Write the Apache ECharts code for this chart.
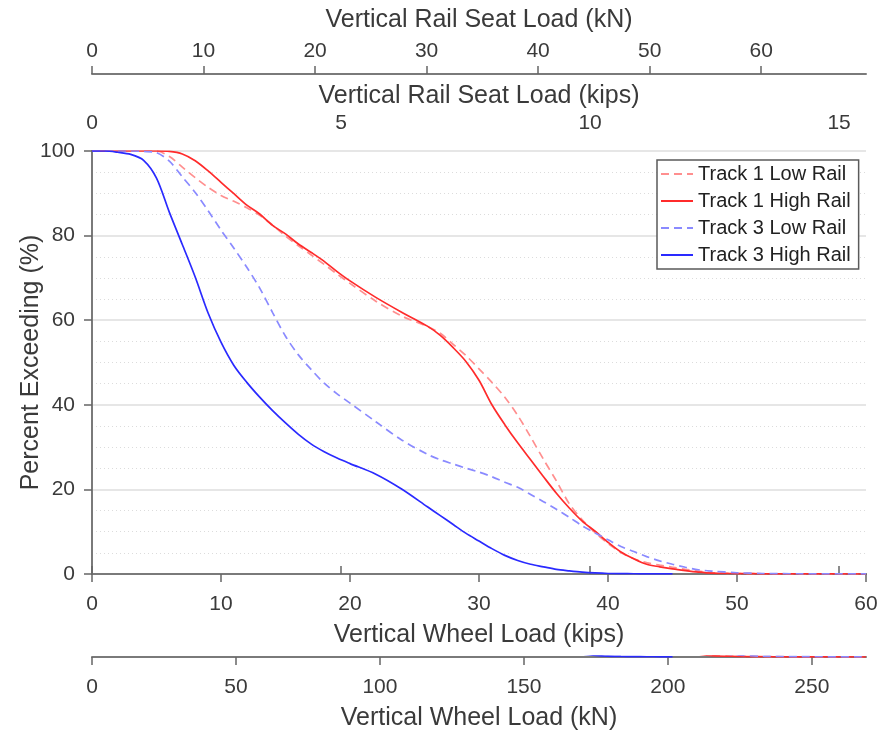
<!DOCTYPE html>
<html>
<head>
<meta charset="utf-8">
<script src="https://cdn.jsdelivr.net/npm/echarts@6/dist/echarts.min.js"></script>
<style>
  html, body { margin: 0; padding: 0; background: #ffffff; }
  #chart { width: 881px; height: 734px; }
</style>
</head>
<body>
<div id="chart"></div>
<script>
// Vertical wheel load (kips) at which each exceedance value is given
const loadKips = [0, 1, 2, 3, 4, 5, 6, 7, 8, 9, 10, 11, 12, 13, 14, 15, 16, 17, 18, 19, 20,
  22, 24, 26, 27, 28, 29, 30, 31, 32, 33, 34, 35, 36, 37, 38, 39, 40, 41, 42, 43, 44, 45,
  46, 47, 48, 50, 52, 55, 60];

// Percent of wheel passes exceeding the load
const track1LowRail = [100, 100, 100, 100, 100, 100, 98.7, 96.2, 93.7, 91.4, 89.5, 88.1, 86.6, 84.8, 82.5, 79.9, 77.6, 75.4, 73.2, 70.9, 68.7,
  64.5, 61.0, 58.5, 56.9, 54.3, 51.6, 48.5, 45.3, 41.8, 37.5, 32.4, 27.1, 22.0, 16.6, 12.8, 9.8, 7.2, 5.1, 3.6, 2.7, 2.1, 1.6,
  1.1, 0.7, 0.3, 0.12, 0.06, 0.03, 0];
const track1HighRail = [100, 100, 100, 100, 100, 100, 99.9, 99.3, 97.7, 95.3, 92.6, 89.9, 87.2, 85.1, 82.4, 80.4, 78.0, 76.0, 73.9, 71.5, 69.3,
  65.4, 61.9, 58.6, 56.4, 53.5, 50.2, 45.8, 40.0, 35.3, 31.0, 27.0, 23.0, 19.1, 15.6, 12.5, 10.1, 7.5, 5.2, 3.6, 2.3, 1.7, 1.2,
  0.8, 0.45, 0.2, 0.1, 0.05, 0.02, 0];
const track3LowRail = [100, 100, 100, 100, 99.9, 99.6, 97.6, 93.9, 90.2, 85.9, 81.3, 77.0, 72.5, 67.6, 61.8, 56.2, 51.8, 48.3, 45.1, 42.6, 40.4,
  36.0, 31.7, 28.3, 27.0, 26.0, 25.0, 24.1, 23.0, 21.7, 20.5, 18.8, 17.1, 15.3, 13.4, 11.4, 9.7, 8.1, 6.5, 5.3, 4.1, 3.1, 2.3,
  1.6, 1.0, 0.7, 0.3, 0.12, 0.05, 0.02];
const track3HighRail = [100, 100, 99.7, 99.2, 97.8, 93.6, 85.5, 77.9, 70.2, 61.7, 54.8, 49.3, 45.3, 41.8, 38.6, 35.7, 33.0, 30.7, 28.9, 27.4, 26.1,
  23.6, 20.1, 15.9, 13.8, 11.7, 9.6, 7.8, 6.0, 4.4, 3.2, 2.3, 1.7, 1.1, 0.75, 0.45, 0.25, 0.12, 0.08, 0.06, 0.04, 0.03, 0.02,
  null, null, null, null, null, null, null];

// Tick labels of the secondary scales
const railSeatKnTicks = [0, 10, 20, 30, 40, 50, 60];
const railSeatKipsTicks = [0, 5, 10, 15];
const wheelKnTicks = [0, 50, 100, 150, 200, 250];
const percentTicks = [0, 20, 40, 60, 80, 100];

const seriesNames = ['Track 1 Low Rail', 'Track 1 High Rail', 'Track 3 Low Rail', 'Track 3 High Rail'];
const seriesValues = [track1LowRail, track1HighRail, track3LowRail, track3HighRail];
const seriesLook = [
  { color: '#ff8f8f', type: [8, 5] },
  { color: '#ff2b2b', type: 'solid' },
  { color: '#8a8aff', type: [8, 5] },
  { color: '#2a2aff', type: 'solid' }
];

function toPairs(values) {
  const out = [];
  loadKips.forEach((x, i) => { if (values[i] !== null) out.push([x, values[i]]); });
  return out;
}

const FONT = 'Liberation Sans, Arial, sans-serif';
const TXT = '#3a3a3a';
const AXIS_LINE = { show: true, lineStyle: { color: '#7a7a7a', width: 2 } };
const TICK = { show: true, length: 8, lineStyle: { color: '#666666', width: 1.5 } };
const tickLabel = { color: TXT, fontSize: 21, fontFamily: FONT };
const nameText = { color: TXT, fontSize: 25, fontFamily: FONT };

const chart = echarts.init(document.getElementById('chart'), null, { renderer: 'canvas' });

const series = [];
seriesNames.forEach((name, k) => {
  series.push({
    name, type: 'line', xAxisIndex: 0, yAxisIndex: 0,
    data: toPairs(seriesValues[k]),
    showSymbol: false, symbol: 'none',
    smooth: 0.3,
    lineStyle: { color: seriesLook[k].color, width: 1.7, type: seriesLook[k].type },
    itemStyle: { color: seriesLook[k].color },
    z: 3
  });
});
// the near-zero tails also trace along the kN wheel-load baseline
seriesNames.forEach((name, k) => {
  series.push({
    name, type: 'line', xAxisIndex: 4, yAxisIndex: 3,
    data: toPairs(seriesValues[k]),
    showSymbol: false, symbol: 'none', silent: true,
    smooth: 0.3, clip: true,
    lineStyle: { color: seriesLook[k].color, width: 1.7, type: seriesLook[k].type },
    itemStyle: { color: seriesLook[k].color },
    z: 3
  });
});

const gridBase = { left: 92, right: 15, containLabel: false, outerBoundsMode: 'none' };

chart.setOption({
  animation: false,
  backgroundColor: '#ffffff',
  textStyle: { fontFamily: FONT },
  grid: [
    Object.assign({ top: 151, bottom: 160 }, gridBase),
    Object.assign({ top: 73, height: 1 }, gridBase),
    Object.assign({ top: 656, height: 1 }, gridBase)
  ],
  legend: {
    data: seriesNames,
    orient: 'vertical',
    left: 657, top: 160,
    padding: [4, 8, 4, 3],
    itemWidth: 32, itemHeight: 14, itemGap: 7,
    backgroundColor: '#ffffff',
    borderColor: '#5a5a5a', borderWidth: 1.5,
    itemStyle: { opacity: 0 },
    textStyle: { color: '#222222', fontSize: 20, fontFamily: FONT },
    selectedMode: false
  },
  xAxis: [
    {
      gridIndex: 0, type: 'value', position: 'bottom', min: 0, max: 60, interval: 10,
      name: 'Vertical Wheel Load (kips)', nameLocation: 'middle', nameGap: 49, nameMoveOverlap: false,
      nameTextStyle: nameText,
      axisLine: AXIS_LINE, axisTick: TICK, axisLabel: Object.assign({ margin: 20 }, tickLabel),
      splitLine: { show: false }
    },
    {
      gridIndex: 0, type: 'value', position: 'top', min: 0, max: 15.54,
      name: 'Vertical Rail Seat Load (kips)', nameLocation: 'middle', nameGap: 42, nameMoveOverlap: false,
      nameTextStyle: nameText,
      axisLine: AXIS_LINE,
      axisTick: Object.assign({ customValues: railSeatKipsTicks }, TICK),
      axisLabel: Object.assign({ margin: 17, customValues: railSeatKipsTicks }, tickLabel),
      splitLine: { show: false }
    },
    {
      gridIndex: 1, type: 'value', position: 'top', min: 0, max: 69.4,
      name: 'Vertical Rail Seat Load (kN)', nameLocation: 'middle', nameGap: 40, nameMoveOverlap: false,
      nameTextStyle: nameText,
      axisLine: AXIS_LINE,
      axisTick: Object.assign({ customValues: railSeatKnTicks }, TICK),
      axisLabel: Object.assign({ margin: 11, customValues: railSeatKnTicks }, tickLabel),
      splitLine: { show: false }
    },
    {
      gridIndex: 2, type: 'value', position: 'bottom', min: 0, max: 268.8,
      name: 'Vertical Wheel Load (kN)', nameLocation: 'middle', nameGap: 49, nameMoveOverlap: false,
      nameTextStyle: nameText,
      axisLine: AXIS_LINE,
      axisTick: Object.assign({ customValues: wheelKnTicks }, TICK),
      axisLabel: Object.assign({ margin: 20, customValues: wheelKnTicks }, tickLabel),
      splitLine: { show: false }
    },
    {
      gridIndex: 2, type: 'value', min: 0, max: 60, show: false
    }
  ],
  yAxis: [
    {
      gridIndex: 0, type: 'value', position: 'left', min: 0, max: 100, interval: 20,
      name: 'Percent Exceeding (%)', nameLocation: 'middle', nameGap: 48, nameMoveOverlap: false,
      nameTextStyle: nameText,
      axisLine: AXIS_LINE, axisTick: TICK,
      axisLabel: Object.assign({ margin: 17, customValues: percentTicks }, tickLabel),
      splitLine: { show: true, lineStyle: { color: '#e6e6e6', width: 2 } },
      minorTick: { show: false, splitNumber: 4 },
      minorSplitLine: { show: true, lineStyle: { color: '#dcdcdc', width: 1, type: [1, 3] } }
    },
    {
      gridIndex: 0, type: 'value', position: 'right', min: 0, max: 100,
      axisLine: AXIS_LINE, axisTick: { show: false }, axisLabel: { show: false }, splitLine: { show: false }
    },
    { gridIndex: 1, type: 'value', min: 0, max: 1, show: false },
    { gridIndex: 2, type: 'value', min: 0, max: 0.15, show: false }
  ],
  series
});
</script>
</body>
</html>
